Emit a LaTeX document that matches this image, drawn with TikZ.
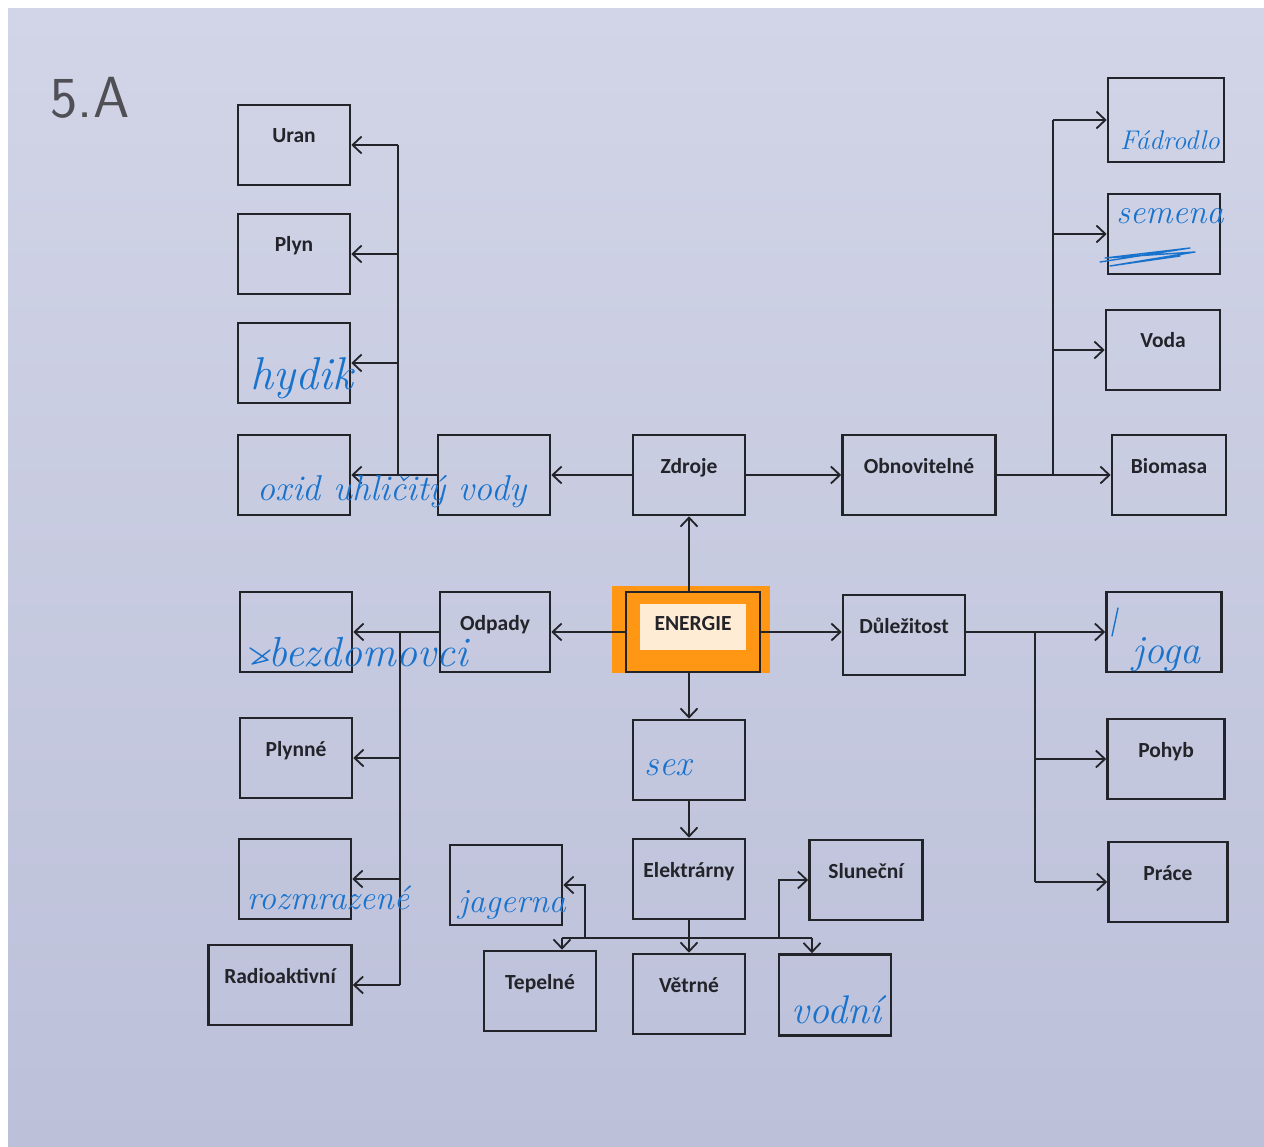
\documentclass[tikz,border=0pt]{standalone}
\usepackage{fontspec}
\newfontfamily\printfont{Carlito}
\usetikzlibrary{arrows.meta}

\definecolor{paper}{RGB}{210,213,231}
\definecolor{paperdark}{RGB}{188,192,217}
\definecolor{pen}{RGB}{25,115,205}
\definecolor{marker}{RGB}{255,150,20}
\definecolor{ink}{RGB}{35,35,42}

\tikzset{
  box/.style={draw=ink, line width=2.6pt, minimum width=112pt, minimum height=80pt,
    inner sep=4pt, text height=34pt, text depth=38pt, text=ink,
    font=\printfont\bfseries\fontsize{21.5}{24}\selectfont},
  conn/.style={draw=ink, line width=1.8pt},
  hand/.style={text=pen, inner sep=0pt, font=\itshape\fontsize{#1}{#1}\selectfont},
  hand/.default=34,
  scribble/.style={draw=pen, line width=1.4pt, line join=round, line cap=round}
}

\begin{document}
\begin{tikzpicture}[x=1pt, y=-1pt, > = {Straight Barb[length=9pt,width=17pt]}]
	\useasboundingbox (0,0) rectangle (1264,1147);
	\fill[white] (0,0) rectangle (1264,1147);
	\shade[top color=paper, bottom color=paperdark] (8,9) rectangle (1264,1147);
	\node[text=ink!80, font=\sffamily\fontsize{58}{58}\selectfont, inner sep=0pt] (trida) at (90,98) {5.A};
	% zvyraznene ENERGIE
	\fill[marker] (612,586) rectangle (770,673);
	\fill[marker!18!white] (640,604) rectangle (746,650);
	% boxy
	\node[box] (uran) at (294,145) {Uran};
	\node[box] (plyn) at (294,254) {Plyn};
	\node[box] (hydik) at (294,363) {};
	\node[box] (oxid) at (294,475) {};
	\node[box] (vody) at (494,475) {};
	\node[box] (zdroje) at (689,475) {Zdroje};
	\node[box, minimum width=153pt] (obnov) at (919,475) {Obnovitelné};
	\node[box, minimum width=116pt, minimum height=84pt] (fadr) at (1166,120) {};
	\node[box] (semena) at (1164,234) {};
	\node[box, minimum width=114pt] (voda) at (1163,350) {Voda};
	\node[box, minimum width=114pt] (biomasa) at (1169,475) {Biomasa};
	\node[box, minimum width=134pt, minimum height=76pt] (energie) at (693,632) {ENERGIE};
	\node[box, minimum width=110pt] (odpady) at (495,632) {Odpady};
	\node[box, minimum width=122pt] (dulez) at (904,635) {Důležitost};
	\node[box, minimum width=115pt] (joga) at (1164,632) {};
	\node[box, minimum width=117pt] (pohyb) at (1166,759) {Pohyb};
	\node[box, minimum width=119pt] (prace) at (1168,882) {Práce};
	\node[box] (bezdom) at (296,632) {};
	\node[box] (plynne) at (296,758) {Plynné};
	\node[box] (rozmraz) at (295,879) {};
	\node[box, minimum width=143pt] (radio) at (280,985) {Radioaktivní};
	\node[box] (sex) at (689,760) {};
	\node[box] (elektr) at (689,879) {Elektrárny};
	\node[box] (jager) at (506,885) {};
	\node[box, minimum width=113pt] (slunec) at (866,880) {Sluneční};
	\node[box] (tepel) at (540,991) {Tepelné};
	\node[box] (vetrne) at (689,994) {Větrné};
	\node[box, minimum height=81pt] (vodni) at (835,995) {};
	% spojnice nahore
	\draw[conn, ->] (zdroje.west) -- (vody.east);
	\draw[conn, ->] (zdroje.east) -- (obnov.west);
	\coordinate (kmenL) at (398,475);
	\draw[conn] (vody.west) -- (kmenL) -- (kmenL |- uran.east);
	\draw[conn, ->] (kmenL) -- (oxid.east);
	\foreach \n in {uran, plyn, hydik}
	\draw[conn, ->] (kmenL |- \n.east) -- (\n.east);
	\coordinate (kmenR) at (1053,475);
	\draw[conn, ->] (obnov.east) -- (biomasa.west);
	\draw[conn] (kmenR) -- (kmenR |- fadr.west);
	\foreach \n in {fadr, semena, voda}
	\draw[conn, ->] (kmenR |- \n.west) -- (\n.west);
	% spojnice od ENERGIE
	\draw[conn, ->] (zdroje.south |- energie.north) -- (zdroje.south);
	\draw[conn, ->] (energie.west) -- (odpady.east);
	\draw[conn, ->] (energie.east) -- (energie.east -| dulez.west);
	\coordinate (kmenD) at (1035,632);
	\draw[conn, ->] (dulez.east |- kmenD) -- (joga.west);
	\draw[conn] (kmenD) -- (kmenD |- prace.west);
	\foreach \n in {pohyb, prace}
	\draw[conn, ->] (kmenD |- \n.west) -- (\n.west);
	\coordinate (kmenO) at (400,632);
	\draw[conn, ->] (odpady.west) -- (bezdom.east);
	\draw[conn] (kmenO) -- (kmenO |- radio.east);
	\foreach \n in {plynne, rozmraz, radio}
	\draw[conn, ->] (kmenO |- \n.east) -- (\n.east);
	% elektrarny
	\draw[conn, ->] (sex.north |- energie.south) -- (sex.north);
	\draw[conn, ->] (sex.south) -- (elektr.north);
	\draw[conn, ->] (elektr.south) -- (vetrne.north);
	\coordinate (busL) at (562,938);
	\coordinate (busR) at (812,938);
	\coordinate (odbJ) at (585,938);
	\coordinate (odbS) at (779,938);
	\draw[conn] (busL) -- (busR);
	\draw[conn, ->] (busL) -- (busL |- tepel.north);
	\draw[conn, ->] (busR) -- (busR |- vodni.north);
	\draw[conn, ->] (odbJ) -- (odbJ |- jager.east) -- (jager.east);
	\draw[conn, ->] (odbS) -- (odbS |- slunec.west) -- (slunec.west);
	% rucne psane
	\node[hand=46] (wHydik) at (302,378) {hydik};
	\node[hand=36] (wOxid) at (392,492) {oxid uhličitý vody};
	\node[hand=27] (wFadr) at (1170,140) {Fádrodlo};
	\node[hand=34] (wSemena) at (1170,216) {semena};
	\node[hand=40] (wJoga) at (1166,655) {joga};
	\node[hand=42] (wBezdom) at (368,652) {bezdomovci};
	\node[hand=36] (wSex) at (668,768) {sex};
	\node[hand=34] (wRozmraz) at (328,898) {rozmrazené};
	\node[hand=34] (wJager) at (512,905) {jagerna};
	\node[hand=40] (wVodni) at (836,1010) {vodní};
	\draw[scribble] (1100,262) -- (1190,248) -- (1105,258) -- (1195,252) -- (1110,266) -- (1180,256);
	\draw[scribble] (1118,608) -- (1112,636);
	\draw[scribble] (250,648) -- (268,660) -- (252,664) -- (270,650);
\end{tikzpicture}
\end{document}
